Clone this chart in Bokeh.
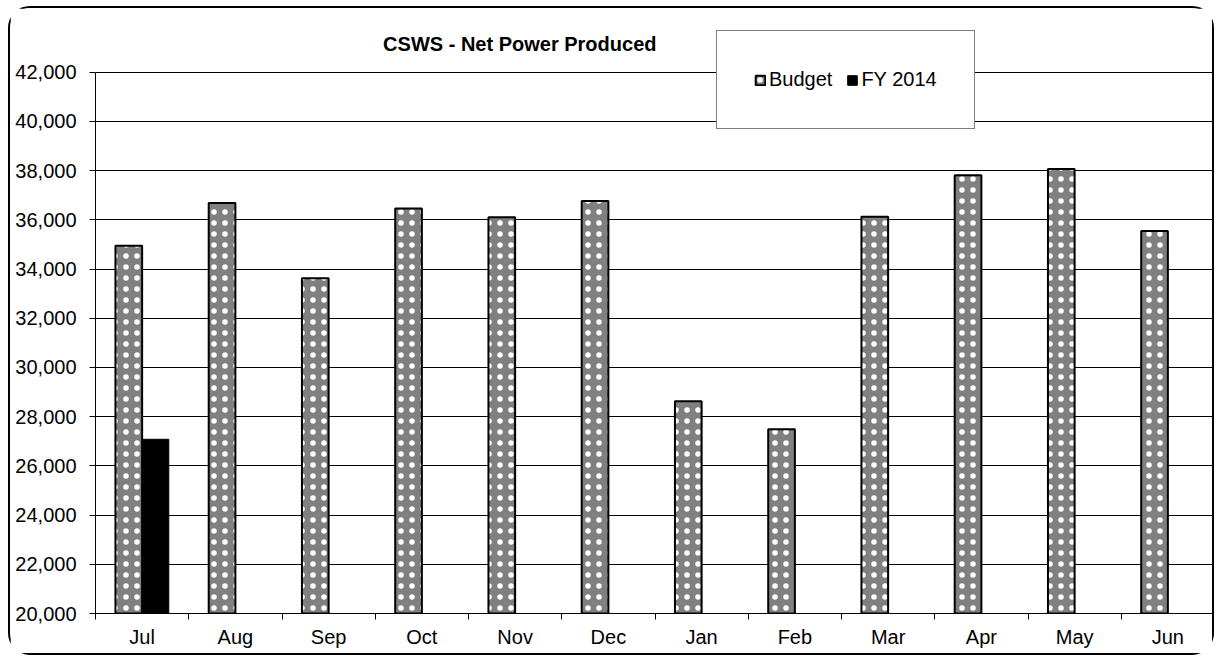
import numpy as np
from bokeh.plotting import figure
from bokeh.models import Range1d, FixedTicker, NumeralTickFormatter, Legend, LegendItem, ColumnDataSource, Label
from bokeh.transform import dodge
from bokeh.embed import file_html
from bokeh.resources import INLINE

months = ["Jul", "Aug", "Sep", "Oct", "Nov", "Dec", "Jan", "Feb", "Mar", "Apr", "May", "Jun"]
budget = [34950, 36680, 33620, 36460, 36100, 36760, 28625, 27490, 36120, 37810, 38065, 35550]
fy2014 = [27080, np.nan, np.nan, np.nan, np.nan, np.nan, np.nan, np.nan, np.nan, np.nan, np.nan, np.nan]
y_ticks = list(range(20000, 42001, 2000))
title_text = "CSWS - Net Power Produced"

FONT = "Liberation Sans"

xc = np.arange(len(months)) + 0.5
src = ColumnDataSource(dict(x=xc, budget=budget, fy=fy2014, month=months))

p = figure(width=1206, height=649, output_backend="svg", toolbar_location=None,
           x_range=Range1d(0, len(months)), y_range=Range1d(20000, 44100),
           min_border_left=85, min_border_right=2, min_border_top=12, min_border_bottom=44)
p.styles = {"border": "2px solid black", "border-radius": "22px", "box-sizing": "border-box",
            "margin-left": "8px", "margin-top": "6px"}

bw = 0.286
r1 = p.vbar(x=dodge("x", -0.143, range=p.x_range), top="budget", bottom=20000, width=bw, source=src,
            fill_color="#808080", line_color="black", line_width=2,
            hatch_pattern="dot", hatch_color="white", hatch_scale=11, hatch_weight=1.5)
r2 = p.vbar(x=dodge("x", 0.143, range=p.x_range), top="fy", bottom=20000, width=bw, source=src,
            fill_color="black", line_color="black", line_width=1)

p.add_layout(Label(x=4.55, y=43150, text=title_text, text_align="center", text_baseline="middle",
                   text_font=FONT, text_font_size="20px", text_font_style="bold", text_color="black"))

p.outline_line_color = None
p.xgrid.grid_line_color = None
p.ygrid.grid_line_color = "black"
p.ygrid.grid_line_width = 1
p.ygrid.ticker = FixedTicker(ticks=y_ticks)

ya = p.yaxis[0]
ya.ticker = FixedTicker(ticks=y_ticks)
ya.bounds = (20000, 42000)
ya.formatter = NumeralTickFormatter(format="0,0")
ya.major_label_text_font = FONT
ya.major_label_text_font_size = "20px"
ya.major_label_text_color = "black"
ya.axis_line_color = "black"
ya.major_tick_line_color = "black"
ya.major_tick_out = 6
ya.major_tick_in = 0
ya.minor_tick_line_color = None
ya.major_label_standoff = 13

xa = p.xaxis[0]
xa.ticker = FixedTicker(ticks=list(xc), minor_ticks=list(range(len(months) + 1)))
xa.major_label_overrides = {float(v): m for v, m in zip(xc, months)}
xa.major_label_text_font = FONT
xa.major_label_text_font_size = "20px"
xa.major_label_text_color = "black"
xa.axis_line_color = "black"
xa.major_tick_out = 0
xa.major_tick_in = 0
xa.minor_tick_line_color = "black"
xa.minor_tick_out = 6
xa.minor_tick_in = 0
xa.major_label_standoff = 6

legend = Legend(items=[LegendItem(label="Budget", renderers=[r1]), LegendItem(label="FY 2014", renderers=[r2])],
                orientation="horizontal", location=(621, 484),
                label_text_font=FONT, label_text_font_size="20px", label_text_color="black",
                glyph_width=12, glyph_height=12, label_standoff=3, spacing=14, padding=37,
                border_line_color="black", border_line_width=1, background_fill_color="white",
                background_fill_alpha=1, margin=0)
p.add_layout(legend, "center")

open("out.html", "w").write(file_html(p, INLINE))
